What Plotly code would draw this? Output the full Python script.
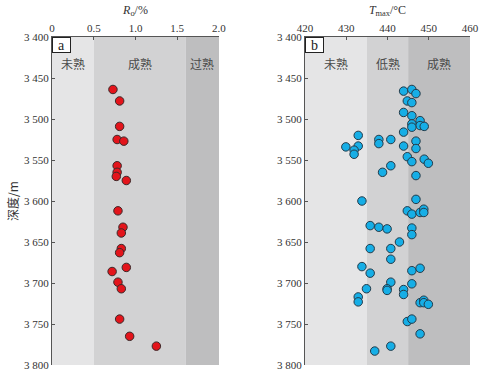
import plotly.graph_objects as go

# ---- data ----
ro_depth = [3464, 3478, 3509, 3525, 3527, 3557, 3565, 3570, 3575, 3612, 3632,
            3639, 3658, 3663, 3681, 3686, 3699, 3707, 3744, 3765, 3777]
ro_value = [0.73, 0.81, 0.81, 0.78, 0.86, 0.78, 0.78, 0.77, 0.89, 0.79, 0.85,
            0.83, 0.83, 0.81, 0.89, 0.72, 0.79, 0.83, 0.81, 0.93, 1.25]

tmax_depth = [3466, 3464, 3469, 3478, 3480, 3492, 3496, 3502, 3506, 3508, 3509, 3510,
              3516, 3520, 3525, 3525, 3530, 3527, 3534, 3533, 3533, 3536, 3538, 3543,
              3546, 3552, 3549, 3554, 3557, 3565, 3569, 3600, 3598, 3612, 3616, 3614,
              3610, 3614, 3630, 3632, 3634, 3633, 3641, 3650, 3658, 3658, 3671, 3680,
              3688, 3685, 3682, 3699, 3701, 3707, 3707, 3709, 3708, 3714, 3717, 3723,
              3724, 3721, 3724, 3726, 3747, 3744, 3762, 3777, 3783]
tmax_value = [443.9, 445.9, 446.9, 444.8, 445.9, 443.9, 445.9, 447.9, 445.9, 447.9, 448.9, 445.9,
              443.9, 432.9, 437.9, 440.8, 437.9, 446.9, 429.9, 432.9, 443.9, 446.9, 431.9, 431.9,
              444.8, 445.9, 448.9, 449.9, 440.8, 438.8, 446.9, 433.8, 446.9, 444.8, 445.9, 447.9,
              448.8, 448.8, 435.8, 437.9, 439.9, 445.9, 445.9, 442.9, 435.8, 440.8, 440.8, 433.8,
              435.8, 445.9, 447.9, 440.8, 445.9, 434.9, 439.9, 439.9, 443.9, 443.9, 432.9, 432.9,
              447.9, 448.8, 448.8, 449.9, 444.8, 445.9, 447.9, 440.8, 436.9]

ro_zone_edges = [0, 0.5, 1.6, 2.0]
ro_zone_names = ["未熟", "成熟", "过熟"]
tmax_zone_edges = [420, 435, 445, 460]
tmax_zone_names = ["未熟", "低熟", "成熟"]
zone_colors = ["#e5e5e6", "#d2d2d3", "#bebebf"]

depth_ticks = [3400, 3450, 3500, 3550, 3600, 3650, 3700, 3750, 3800]
depth_ticktext = ["3 400", "3 450", "3 500", "3 550", "3 600", "3 650", "3 700", "3 750", "3 800"]
ro_ticks = [0, 0.5, 1.0, 1.5, 2.0]
ro_ticktext = ["0", "0.5", "1.0", "1.5", "2.0"]
tmax_ticks = [420, 430, 440, 450, 460]

label_depth = 3432

fig = go.Figure()

fig.add_trace(go.Scatter(x=ro_value, y=ro_depth, mode="markers", xaxis="x", yaxis="y",
                         marker=dict(size=8.5, color="#e3141b", line=dict(color="#3a2a2a", width=1)),
                         showlegend=False))
fig.add_trace(go.Scatter(x=tmax_value, y=tmax_depth, mode="markers", xaxis="x2", yaxis="y2",
                         marker=dict(size=8.5, color="#16aee6", line=dict(color="#243a48", width=1)),
                         showlegend=False))

shapes = []
annotations = []
for xr, yr, edges, names in [("x", "y", ro_zone_edges, ro_zone_names),
                             ("x2", "y2", tmax_zone_edges, tmax_zone_names)]:
    for i in range(3):
        shapes.append(dict(type="rect", xref=xr, yref=yr + " domain", x0=edges[i], x1=edges[i + 1],
                           y0=0, y1=1, fillcolor=zone_colors[i], line=dict(width=0), layer="below"))
        annotations.append(dict(x=(edges[i] + edges[i + 1]) / 2, y=label_depth, xref=xr, yref=yr,
                                text=names[i], showarrow=False,
                                font=dict(family="Noto Sans CJK SC", size=12, color="#4a4a4a")))

for xr, txt in [("x domain", "a"), ("x2 domain", "b")]:
    annotations.append(dict(x=0, y=1, xref=xr, yref="paper", text=txt, showarrow=False,
                            xanchor="left", yanchor="top", bordercolor="#222222", borderwidth=1,
                            borderpad=0, bgcolor="white", width=17, height=14, align="center",
                            font=dict(family="Liberation Serif", size=14, color="#222222")))

axis_font = dict(family="Liberation Serif", size=11, color="#333333")
common_x = dict(side="top", showline=True, linecolor="#555555", linewidth=1, ticks="inside",
                ticklen=3, tickcolor="#555555", showgrid=False, zeroline=False, tickfont=axis_font,
                automargin=False)
common_y = dict(autorange=False, range=[3800, 3400], tickvals=depth_ticks, ticktext=depth_ticktext,
                showline=True, linecolor="#555555", linewidth=1, ticks="inside", ticklen=3,
                tickcolor="#555555", showgrid=False, zeroline=False, tickfont=axis_font,
                automargin=False)

fig.update_layout(
    width=483, height=373,
    margin=dict(l=52, r=13, t=36.5, b=7.5),
    paper_bgcolor="white", plot_bgcolor="white",
    xaxis=dict(domain=[0, 0.3995], range=[0, 2], tickvals=ro_ticks, ticktext=ro_ticktext,
               anchor="y",
               title=dict(text="<i>R</i><sub>o</sub>/%", standoff=4,
                          font=dict(family="Liberation Serif", size=12, color="#333333")),
               **common_x),
    xaxis2=dict(domain=[0.6053, 1], range=[420, 460], tickvals=tmax_ticks, anchor="y2",
                title=dict(text="<i>T</i><sub>max</sub>/°C", standoff=4,
                           font=dict(family="Liberation Serif", size=12, color="#333333")),
                **common_x),
    yaxis=dict(anchor="x", title=dict(text="深度/m", standoff=2,
                                      font=dict(family="Noto Sans CJK SC", size=12, color="#333333")),
               **common_y),
    yaxis2=dict(anchor="x2", **common_y),
    shapes=shapes,
    annotations=annotations,
)

fig.write_html("out.html", config={"displayModeBar": False},
               post_script="document.body.style.margin='0';document.body.style.overflow='hidden';")
